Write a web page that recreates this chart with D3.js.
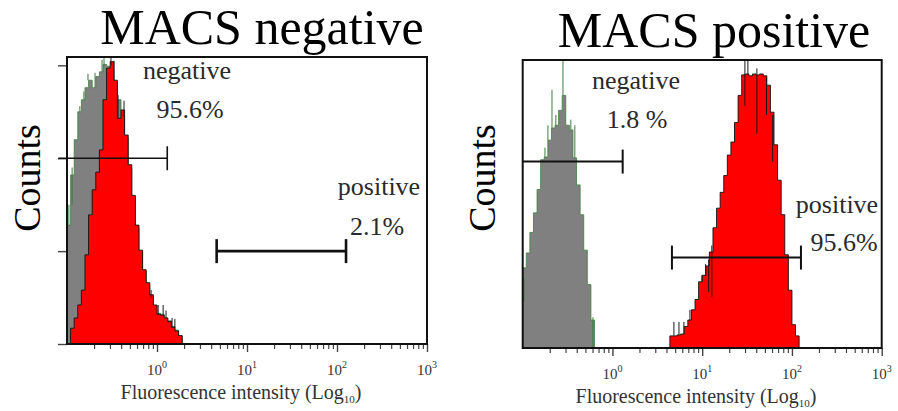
<!DOCTYPE html>
<html>
<head>
<meta charset="utf-8">
<script src="https://cdn.jsdelivr.net/npm/d3@7"></script>
<style>
  body { margin: 0; background: #fff; }
  svg { display: block; }
  text { font-family: "Liberation Serif", "Times New Roman", serif; }
</style>
</head>
<body>
<script>
// histogram bins are 0.04 decade wide
var binStepLog = 0.04

var decadeTicks = [1e0, 1e1, 1e2, 1e3]
var decadeExp = ["0", "1", "2", "3"]
var countTicks = [0, 100, 200, 300]

// MACS negative: control (grey) and sample (red)
var negCtrlStart = 0.1
var negCtrlCounts = [128, 182, 220, 250, 263, 276, 284, 276, 288, 293, 301, 299, 295, 282, 263, 245,
  222, 189, 157, 125, 99, 78, 64, 51, 41, 33, 32, 28, 25, 19, 15, 9]
var negSampleStart = 0.1096
var negSampleCounts = [17, 28, 42, 58, 96, 139, 166, 185, 209, 263, 297, 304, 284, 243, 252, 225,
  193, 160, 128, 101, 80, 66, 53, 42, 32, 31, 28, 24, 18, 14, 9]
// [value, from count, to count]
var negCtrlSpikes = [[0.105, 128, 150], [0.114, 150, 190], [0.139, 250, 256], [0.154, 263, 272],
  [0.171, 284, 291], [0.205, 276, 292], [0.245, 293, 306], [0.258, 299, 309]]
var negSampleSpikes = [[0.308, 300, 309], [0.333, 284, 305], [0.369, 243, 268], [0.43, 245, 262],
  [0.86, 50, 58], [1.03, 32, 42], [1.17, 31, 42], [1.26, 28, 36], [1.47, 18, 28], [1.58, 18, 27]]
var negGates = [{lo: 0.08, hi: 1.3, count: 200, w: 1.6}, {lo: 4.6, hi: 126, count: 100, w: 2.6}]

// MACS positive
var posCtrlStart = 0.1
var posCtrlCounts = [86, 102, 124, 145, 170, 202, 205, 223, 236, 239, 255, 271, 239, 234, 204, 175,
  143, 105, 68, 30]
var posSampleStart = 4.365
var posSampleCounts = [13, 13, 14, 15, 23, 30, 41, 52, 71, 78, 88, 103, 129, 150, 167, 185,
  207, 221, 242, 271, 293, 294, 292, 294, 293, 294, 292, 282, 253, 218, 180, 143, 100, 62, 25, 13]
var posCtrlSpikes = [[0.103, 50, 75], [0.177, 205, 215], [0.191, 223, 239], [0.212, 236, 277],
  [0.234, 239, 250], [0.281, 271, 309], [0.344, 234, 245], [0.381, 204, 239], [0.606, 0, 33]]
var posSampleSpikes = [[29.9, 260, 309], [32.3, 294, 309], [40.7, 230, 300], [52, 250, 290],
  [61, 200, 250], [4.84, 13, 28], [5.51, 14, 28], [6.25, 15, 28], [7.3, 30, 41], [9.93, 71, 78],
  [10.9, 78, 90], [11.8, 60, 95], [12.8, 55, 110]]
var posGates = [{lo: 0.1, hi: 1.3, count: 200, w: 2}, {lo: 4.6, hi: 126, count: 97, w: 2}]

var panels = [
  {title: "MACS negative", tx: 262, ty: 44, box: [67, 57, 427, 344], yTicks: true,
   countsX: 40, labelX: 241,
   ctrl: [negCtrlStart, negCtrlCounts], sample: [negSampleStart, negSampleCounts],
   ctrlSpikes: negCtrlSpikes, sampleSpikes: negSampleSpikes, gates: negGates,
   notes: [["negative", 187, 79], ["95.6%", 190, 118], ["positive", 379, 195], ["2.1%", 377, 235]]},
  {title: "MACS positive", tx: 714, ty: 47, box: [522.7, 60, 881.7, 348], yTicks: false,
   countsX: 495, labelX: 696,
   ctrl: [posCtrlStart, posCtrlCounts], sample: [posSampleStart, posSampleCounts],
   ctrlSpikes: posCtrlSpikes, sampleSpikes: posSampleSpikes, gates: posGates,
   notes: [["negative", 636, 89], ["1.8 %", 637, 128], ["positive", 837, 213], ["95.6%", 844, 251]]}
]

var svg = d3.select("body").append("svg")
  .attr("width", 898)
  .attr("height", 411)

function binPoints(start, counts) {
  var pts = counts.map(function(c, i) {
    return {v: start * Math.pow(10, i * binStepLog), c: c}
  })
  pts.push({v: start * Math.pow(10, counts.length * binStepLog), c: counts[counts.length - 1]})
  return pts
}

panels.forEach(function(p) {
  var b = p.box
  var x = d3.scaleLog().domain([0.1, 1000]).range([b[0], b[2]])
  var y = d3.scaleLinear().domain([0, 309]).range([b[3], b[1]])
  var g = svg.append("g")

  var area = d3.area()
    .curve(d3.curveStepAfter)
    .x(function(d) { return x(d.v) })
    .y0(y(0))
    .y1(function(d) { return y(d.c) })

  // control histogram
  g.append("path")
    .attr("d", area(binPoints(p.ctrl[0], p.ctrl[1])))
    .attr("fill", "#808080")
    .attr("stroke", "#3d7d3d")
    .attr("stroke-width", 0.8)
  g.selectAll(".cs").data(p.ctrlSpikes).enter().append("line")
    .attr("x1", function(d) { return x(d[0]) })
    .attr("x2", function(d) { return x(d[0]) })
    .attr("y1", function(d) { return y(d[1]) })
    .attr("y2", function(d) { return y(d[2]) })
    .attr("stroke", "#3d7d3d")
    .attr("stroke-width", 1)

  // sample histogram
  g.append("path")
    .attr("d", area(binPoints(p.sample[0], p.sample[1])))
    .attr("fill", "#ff0000")
    .attr("stroke", "#111")
    .attr("stroke-width", 0.9)
  g.selectAll(".ss").data(p.sampleSpikes).enter().append("line")
    .attr("x1", function(d) { return x(d[0]) })
    .attr("x2", function(d) { return x(d[0]) })
    .attr("y1", function(d) { return y(d[1]) })
    .attr("y2", function(d) { return y(d[2]) })
    .attr("stroke", "#1a1a1a")
    .attr("stroke-width", 1)

  // x ticks: minor 2..9, major on decades
  var minor = []
  for (var k = -1; k < 3; k++) {
    for (var m = 1; m < 10; m++) minor.push(m * Math.pow(10, k))
  }
  minor = minor.filter(function(v) { return v > 0.1 && decadeTicks.indexOf(v) < 0 })
  g.append("g")
    .attr("transform", "translate(0," + b[3] + ")")
    .call(d3.axisBottom(x).tickValues(minor).tickSize(5).tickFormat(""))
    .call(function(a) { a.select(".domain").remove() })
    .selectAll("line").attr("stroke", "#444").attr("stroke-width", 1.2)
  g.append("g")
    .attr("transform", "translate(0," + b[3] + ")")
    .call(d3.axisBottom(x).tickValues(decadeTicks).tickSize(8).tickFormat(""))
    .call(function(a) { a.select(".domain").remove() })
    .selectAll("line").attr("stroke", "#444").attr("stroke-width", 1.4)

  var lab = g.selectAll(".xl").data(decadeTicks).enter().append("text")
    .attr("x", function(d) { return x(d) })
    .attr("y", b[3] + 31)
    .attr("text-anchor", "middle")
    .attr("font-size", 15)
    .attr("fill", "#333")
  lab.append("tspan").text("10")
  lab.append("tspan").attr("dy", -7).attr("font-size", 10)
    .text(function(d, i) { return decadeExp[i] })

  var xl = g.append("text")
    .attr("x", p.labelX)
    .attr("y", b[3] + 55)
    .attr("text-anchor", "middle")
    .attr("font-size", 20)
    .attr("fill", "#333")
  xl.append("tspan").text("Fluorescence intensity (Log")
  xl.append("tspan").attr("dy", 4).attr("font-size", 11).text("10")
  xl.append("tspan").attr("dy", -4).text(")")

  if (p.yTicks) {
    g.append("g")
      .attr("transform", "translate(" + b[0] + ",0)")
      .call(d3.axisLeft(y).tickValues(countTicks).tickSize(9).tickFormat(""))
      .call(function(a) { a.select(".domain").remove() })
      .selectAll("line").attr("stroke", "#444").attr("stroke-width", 1.4)
  }

  // gates
  p.gates.forEach(function(gt) {
    var gy = y(gt.count)
    g.append("line")
      .attr("x1", Math.max(x(gt.lo), 0)).attr("x2", x(gt.hi))
      .attr("y1", gy).attr("y2", gy)
      .attr("stroke", "#111").attr("stroke-width", gt.w)
    var caps = gt.lo > 0.1 ? [gt.lo, gt.hi] : [gt.hi]
    caps.forEach(function(v) {
      g.append("line")
        .attr("x1", x(v)).attr("x2", x(v))
        .attr("y1", gy - 12).attr("y2", gy + 12)
        .attr("stroke", "#111").attr("stroke-width", gt.w)
    })
  })

  // frame
  g.append("rect")
    .attr("x", b[0]).attr("y", b[1])
    .attr("width", b[2] - b[0]).attr("height", b[3] - b[1])
    .attr("fill", "none")
    .attr("stroke", "#111")
    .attr("stroke-width", 2)

  g.selectAll(".note").data(p.notes).enter().append("text")
    .attr("x", function(d) { return d[1] })
    .attr("y", function(d) { return d[2] })
    .attr("text-anchor", "middle")
    .attr("font-size", 26)
    .attr("fill", "#2a2a2a")
    .text(function(d) { return d[0] })

  g.append("text")
    .attr("x", p.tx).attr("y", p.ty)
    .attr("text-anchor", "middle")
    .attr("font-size", 50)
    .attr("fill", "#000")
    .text(p.title)

  g.append("text")
    .attr("transform", "translate(" + p.countsX + ",178) rotate(-90)")
    .attr("text-anchor", "middle")
    .attr("font-size", 38)
    .attr("fill", "#000")
    .text("Counts")
})
</script>
</body>
</html>
